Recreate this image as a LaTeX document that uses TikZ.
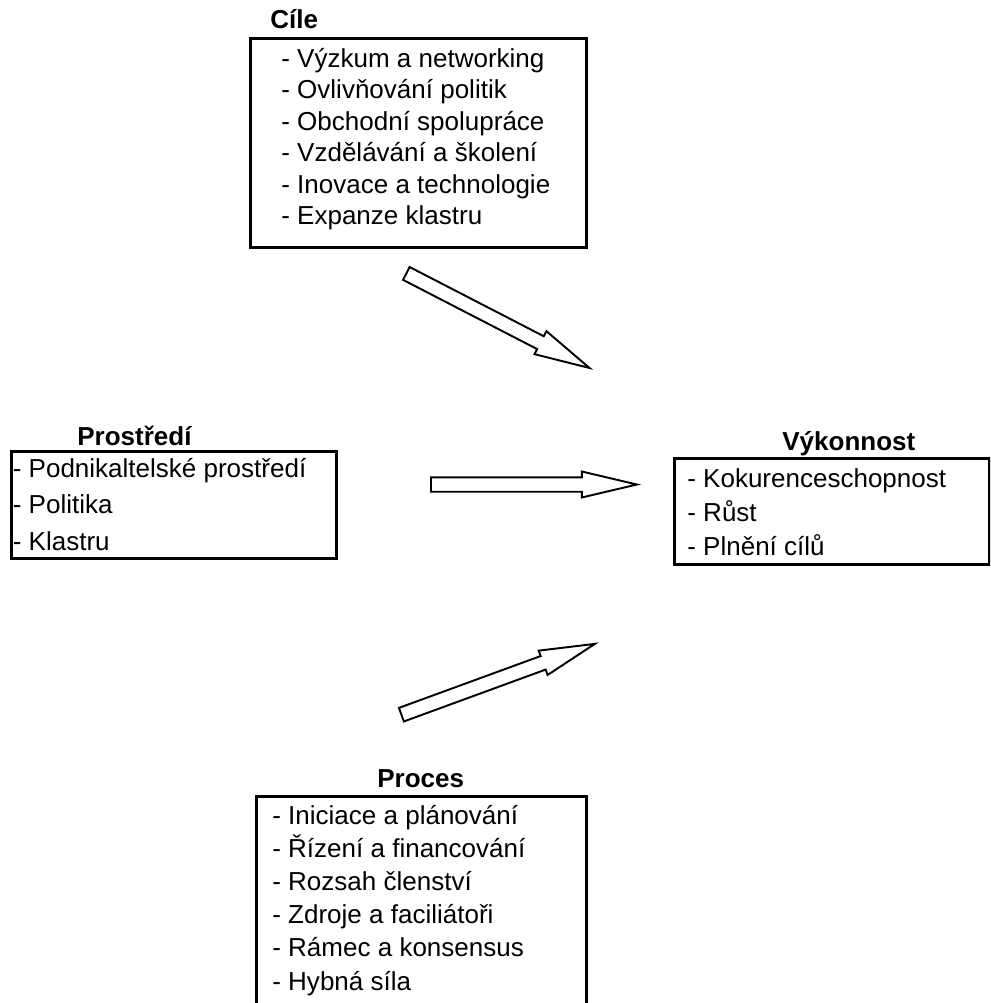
\documentclass[tikz,border=0pt]{standalone}
\usepackage{fontspec}
\setmainfont{Liberation Sans}
\usetikzlibrary{shapes.arrows}

\begin{document}
\begin{tikzpicture}[
  boxframe/.style={draw=black,line width=1.7pt,anchor=north west,inner sep=0pt},
  boxtitle/.style={font=\fontsize{14.8}{18}\selectfont\bfseries,inner sep=0pt,anchor=base west},
  listtext/.style={font=\fontsize{14.8}{18}\selectfont,inner sep=0pt,anchor=base west},
  hollowarrow/.style={single arrow,draw=black,fill=white,line width=1.1pt,minimum height=4.12cm,single arrow head extend=0.115cm,single arrow tip angle=26.5,inner xsep=0pt,inner ysep=0.125cm,anchor=tail}]
\useasboundingbox (0,0) rectangle (19.8,-20.06);
\clip (0,0) rectangle (19.8,-20.06);
% Cile
\node[boxframe,minimum width=6.72cm,minimum height=4.18cm] (cile) at (4.98,-0.74) {};
\node[boxtitle] (ciletitle) at (5.40,-0.566) {Cíle};
\foreach \t [count=\i] in {Výzkum a networking,Ovlivňování politik,Obchodní spolupráce,Vzdělávání a školení,Inovace a technologie,Expanze klastru}
  \node[listtext] (cile\i) at (5.62,{-1.34-0.63*(\i-1)}) {- \t};
% Prostredi
\node[boxframe,minimum width=6.50cm,minimum height=2.14cm] (prostredi) at (0.20,-9.00) {};
\node[boxtitle] (prostredititle) at (1.54,-8.90) {Prostředí};
\foreach \t [count=\i] in {Podnikaltelské prostředí,Politika,Klastru}
  \node[listtext] (prostredi\i) at (0.25,{-9.54-0.73*(\i-1)}) {- \t};
% Vykonnost
\node[boxframe,minimum width=6.30cm,minimum height=2.12cm] (vykonnost) at (13.46,-9.14) {};
\node[boxtitle] (vykonnosttitle) at (15.64,-9.00) {Výkonnost};
\foreach \t [count=\i] in {Kokurenceschopnost,Růst,Plnění cílů}
  \node[listtext] (vykonnost\i) at (13.74,{-9.74-0.68*(\i-1)}) {- \t};
% Proces
\node[boxframe,minimum width=6.60cm,minimum height=4.60cm] (proces) at (5.10,-15.90) {};
\node[boxtitle] (procestitle) at (7.54,-15.74) {Proces};
\foreach \t [count=\i] in {Iniciace a plánování,Řízení a financování,Rozsah členství,Zdroje a faciliátoři,Rámec a konsensus,Hybná síla}
  \node[listtext] (proces\i) at (5.44,{-16.48-0.664*(\i-1)}) {- \t};
% sipky
\node[hollowarrow,rotate=-27.3] (sipka1) at (8.11,-5.46) {};
\node[hollowarrow] (sipka2) at (8.60,-9.69) {};
\node[hollowarrow,rotate=20.1] (sipka3) at (8.01,-14.30) {};
\end{tikzpicture}
\end{document}
